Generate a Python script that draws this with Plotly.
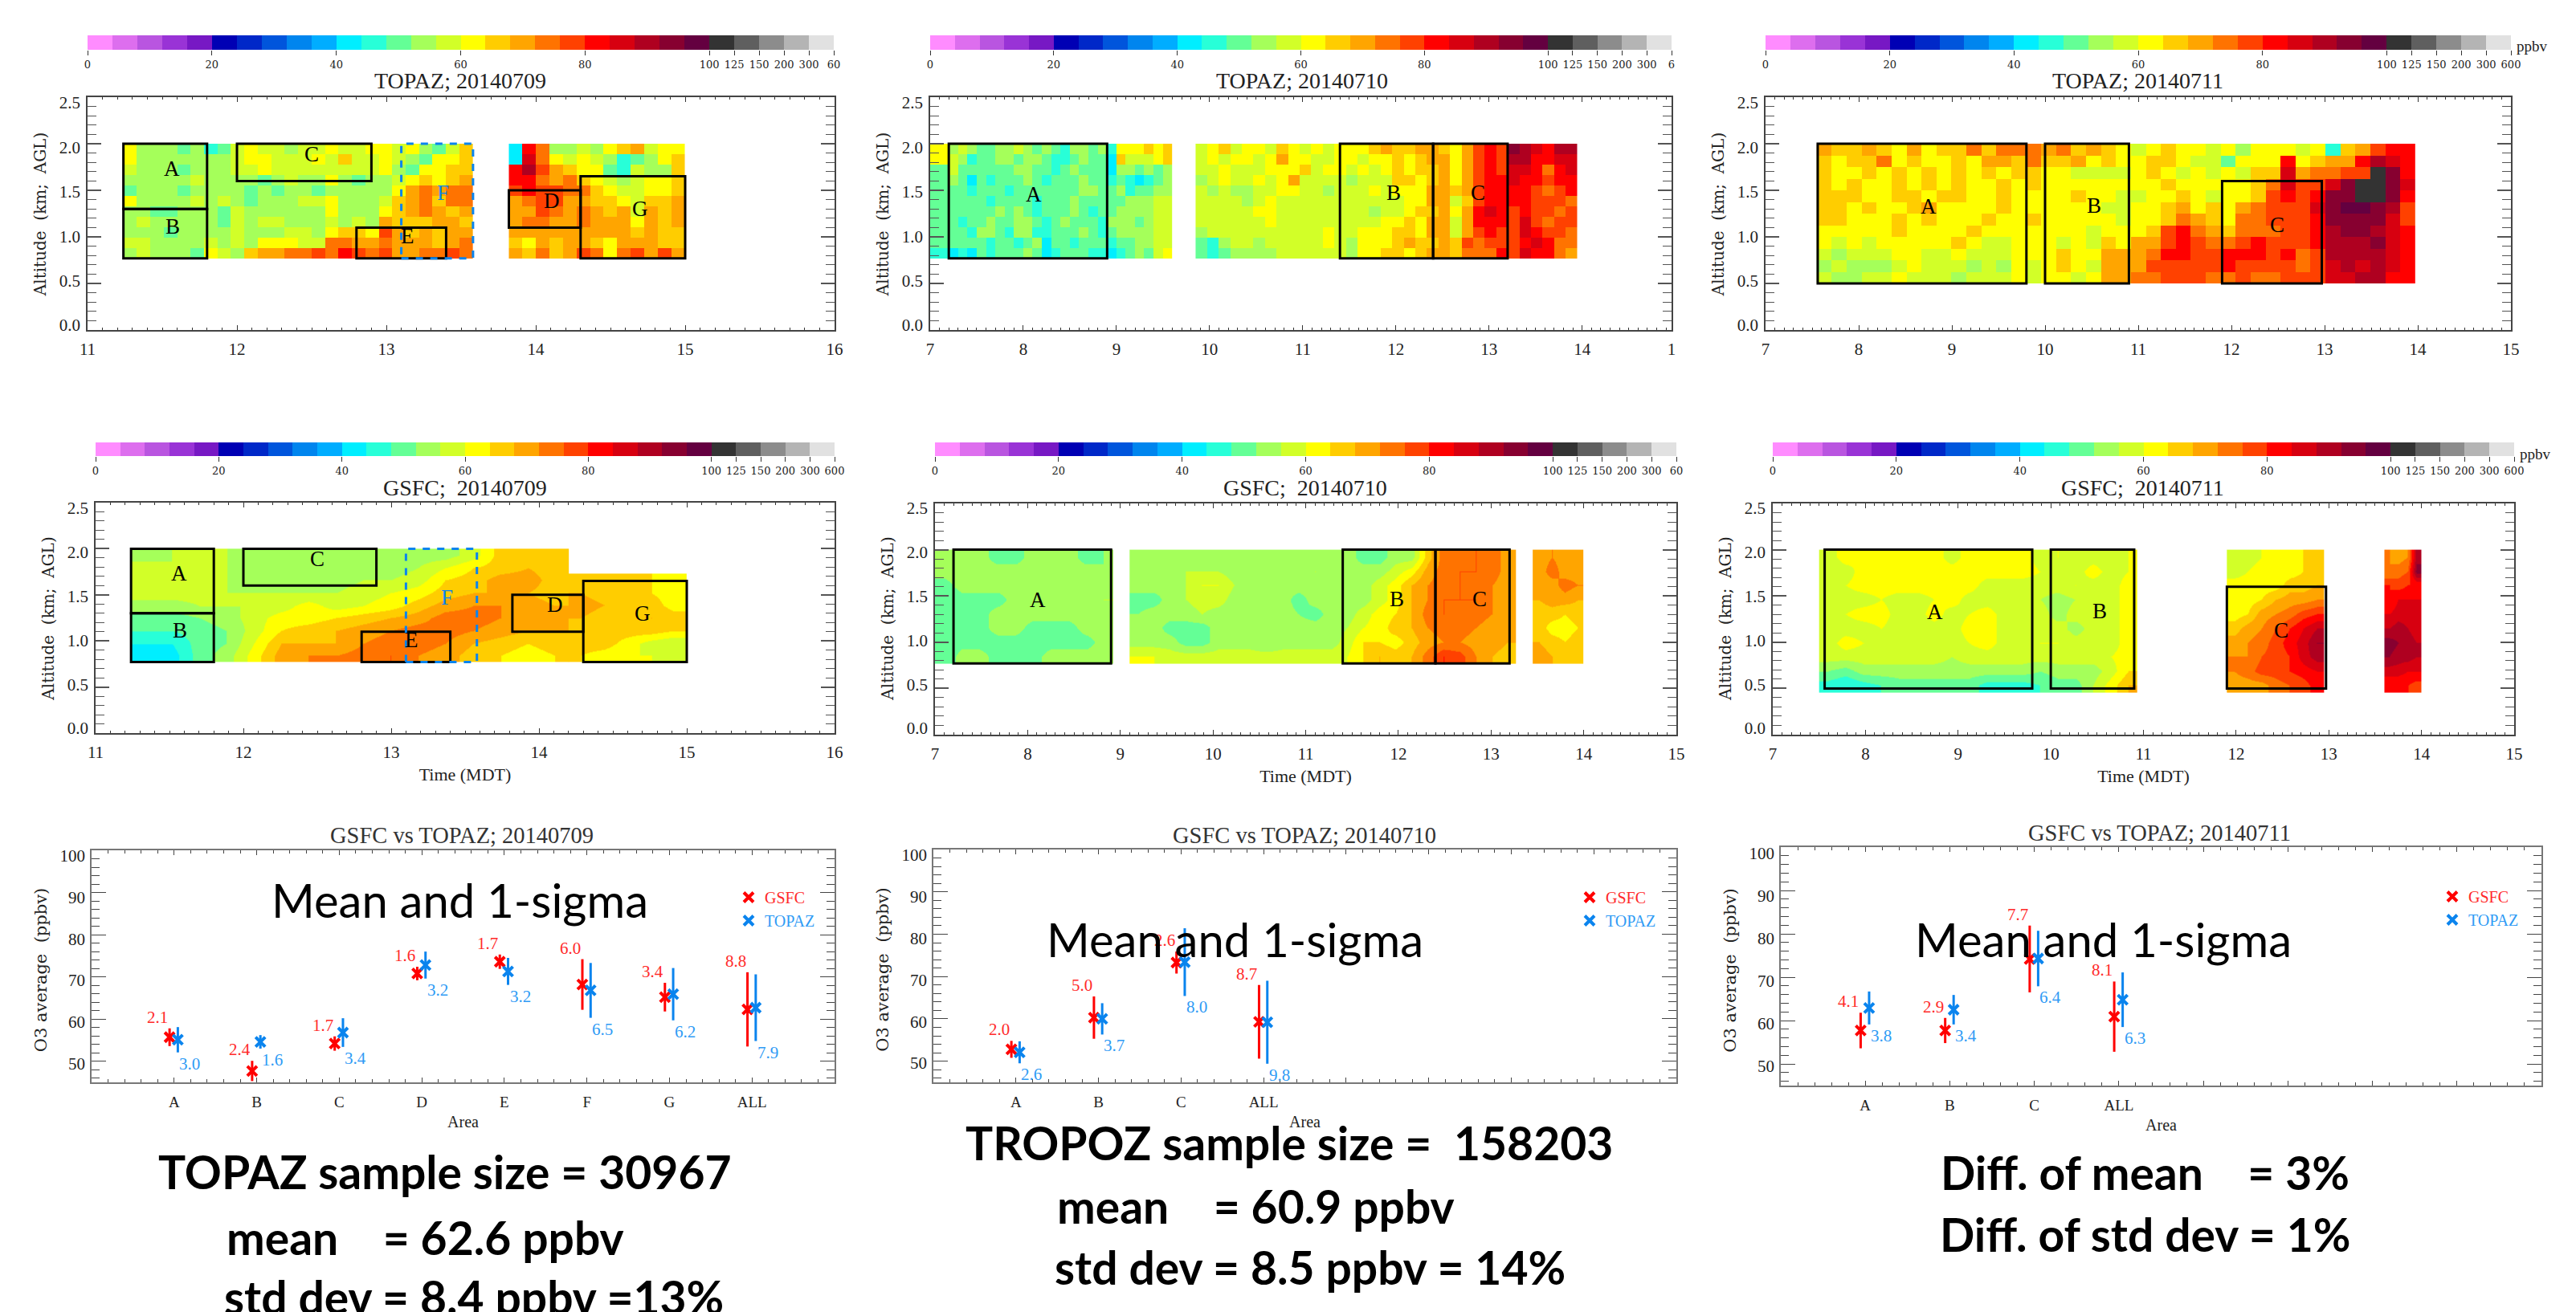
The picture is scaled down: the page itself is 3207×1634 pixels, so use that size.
import numpy as np
import plotly.graph_objects as go

W, H = 3207, 1634
SERIF = "Liberation Serif"
WIDE = "DejaVu Serif"
SANS = "Lato"

# ---------- colour table ----------
LEVELS = [0,4,8,12,16,20,24,28,32,36,40,44,48,52,56,60,64,68,72,76,80,84,88,92,96,100,125,150,200,300,600]
COLORS = ["#FF8CFF","#DD6EEE","#B955E0","#9933D6","#7718C4","#0000B4","#0028C8","#0055DC","#0085EE","#00ADFF",
          "#00EEFF","#28FFD8","#64FF96","#A5FF5A","#D2FF28","#FFFF00","#FFCD00","#FFA500","#FF7300","#FF4100",
          "#FF0000","#D70010","#AF0020","#870030","#640040","#333333","#5F5F5F","#8C8C8C","#B4B4B4","#E1E1E1"]
CB_TICKS = [0,5,10,15,20,25,26,27,28,29,30]
CB_TEXT = ["0","20","40","60","80","100","125","150","200","300","600"]

# ---------- TOPAZ 20140709 (ppbv), rows from 2.0 km down ----------
T09_A = [
[62,54,54,54,50,54,46,50,58,62,58,58,54,58,58,62,58,58,62,62,58,62,54,50,58,66],
[62,54,54,54,54,54,54,54,58,62,62,58,58,58,62,58,66,58,58,62,58,54,50,62,62,66],
[58,54,54,54,50,54,54,54,58,58,62,58,58,58,58,58,58,58,58,62,54,50,62,62,66,66],
[54,54,54,54,54,58,54,54,54,54,50,54,58,54,54,62,54,50,54,54,58,62,66,62,66,70],
[50,54,54,54,50,54,54,54,54,50,54,50,54,54,50,54,54,54,54,54,62,70,74,70,74,74],
[62,54,54,54,54,58,54,58,54,50,54,54,54,58,58,62,54,54,54,58,66,70,72,66,74,74],
[54,54,50,50,54,54,54,50,58,54,54,54,54,54,54,62,54,54,54,62,66,70,74,70,66,70],
[54,58,54,54,54,54,54,50,58,54,58,58,54,54,54,58,54,58,54,70,66,66,66,70,70,66],
[54,54,54,50,54,54,54,54,58,54,54,54,58,58,54,62,66,66,62,78,70,66,70,66,70,70],
[58,58,54,54,54,54,58,54,58,54,62,62,62,58,58,74,74,70,70,74,70,70,70,66,70,74],
[54,58,54,54,54,50,62,58,54,66,70,70,72,74,78,74,82,78,74,78,70,70,74,74,78,74]]
T09_B = [
[42,82,74,54,54,58,54,62,66,70,58,62,62],
[40,86,74,62,58,62,58,54,46,50,54,62,66],
[82,88,78,70,66,62,62,50,46,58,54,54,66],
[82,80,74,70,74,66,62,58,54,58,62,62,66],
[78,80,78,78,74,72,66,62,58,58,62,62,66],
[70,72,78,76,70,70,66,66,62,58,66,66,70],
[70,70,76,72,70,72,70,66,70,58,70,66,70],
[70,72,74,70,70,72,70,70,70,62,70,66,70],
[70,70,70,70,70,70,70,70,70,66,70,66,66],
[66,62,70,66,70,70,66,62,70,70,70,66,66],
[70,66,74,66,70,78,74,62,74,78,70,78,70]]

# ---------- TOPAZ 20140710 ----------
T10_S = [[62],[62],[50],[50],[50],[50],[50],[50],[50],[50],[46]]
T10_A = [
[54,58,54,50,50,54,54,58,54,50,54,50,46,54,54,50,54,46,62,62,62,66,62,66],
[58,54,46,50,50,54,54,50,54,54,50,46,46,50,54,50,50,42,66,58,58,58,62,66],
[58,50,50,50,50,50,50,54,54,50,50,46,50,54,50,50,50,42,54,54,50,54,50,54],
[54,50,42,50,46,50,50,50,54,50,46,50,50,50,54,50,50,46,50,46,42,46,50,54],
[50,50,46,50,50,50,46,50,50,50,50,50,50,50,54,54,50,50,54,46,50,50,54,54],
[50,50,50,50,46,50,50,50,50,46,50,50,50,54,50,50,50,50,50,54,54,54,58,58],
[50,50,50,50,50,54,50,54,50,46,50,50,50,54,50,46,50,50,54,54,54,54,58,58],
[50,46,50,50,54,50,50,54,54,50,46,50,54,50,50,50,46,54,54,54,50,54,58,58],
[50,50,46,54,54,50,46,54,54,46,46,50,50,50,54,50,46,50,54,54,54,54,58,58],
[50,50,50,50,46,50,50,46,50,54,42,50,50,46,50,50,50,46,50,50,54,54,58,58],
[42,46,42,50,46,50,50,50,54,50,40,46,50,50,50,46,46,40,46,50,54,50,58,62]]
T10_B = [
[58,62,66,58,62,62,58,66,62,58,62,58,62,62,62,66,70,66,66,70,70,66,62,70,78,82,78,94,90,86,82,88,90],
[58,62,58,62,62,58,62,70,62,62,58,58,62,62,58,62,62,66,62,66,70,70,62,70,78,82,78,88,88,82,80,84,86],
[58,58,62,58,58,58,62,62,62,66,58,62,62,58,62,58,62,66,62,66,66,70,62,70,78,80,78,86,84,82,74,82,84],
[54,58,62,58,58,62,58,62,70,58,58,58,58,54,58,58,58,66,66,62,66,70,62,70,78,82,82,84,82,80,78,80,82],
[58,54,58,54,54,58,58,62,62,58,58,54,58,58,58,62,58,62,62,62,70,70,66,70,76,82,80,80,80,78,74,78,80],
[58,58,58,58,54,58,62,58,58,58,58,58,58,58,58,58,58,58,62,62,70,70,58,66,78,82,82,80,80,78,76,78,74],
[58,58,58,58,58,62,62,58,58,58,58,58,58,58,58,54,58,58,62,66,66,70,62,70,82,86,82,78,82,76,78,74,78],
[58,58,58,58,58,58,62,58,58,58,58,58,58,58,58,58,62,62,66,62,70,70,58,70,82,82,80,78,84,78,74,78,76],
[54,58,58,58,58,58,58,58,58,58,58,62,58,58,62,62,62,66,66,62,70,70,58,70,78,82,78,78,84,80,76,78,74],
[50,46,54,58,58,54,58,58,58,58,58,62,58,54,62,62,62,66,70,66,66,70,66,78,74,78,76,76,80,84,80,74,72],
[50,44,50,54,54,54,54,58,58,58,58,58,58,54,62,62,66,66,62,66,70,70,66,74,72,74,80,78,84,80,82,74,68]]

# ---------- TOPAZ 20140711 ----------
T11_A = [
[70,66,66,70,66,62,70,62,66,66,74,66,74,72,74,70,74,66,70,66,62,58,62,66,62,62,58,62,54,62,62,62,58,62,46,66,70,78,82,82],
[66,62,66,66,74,62,66,62,62,66,62,70,70,66,74,66,66,70,62,66,62,62,66,66,62,58,58,50,62,62,62,82,62,66,70,70,82,90,86,82],
[66,62,62,66,62,66,62,66,62,66,62,66,62,66,66,62,62,58,58,58,58,62,66,62,58,62,58,62,58,66,66,86,70,74,74,78,78,110,94,82],
[66,62,66,62,62,66,62,66,62,66,62,62,66,62,66,62,62,62,62,62,62,62,62,66,62,62,62,62,62,66,74,86,78,78,86,92,110,110,94,86],
[66,66,66,62,62,66,66,62,66,66,62,62,66,62,62,62,62,66,62,62,58,58,62,62,66,62,58,62,62,66,78,82,78,82,94,94,110,110,92,82],
[66,66,62,66,62,62,66,70,62,62,62,62,66,62,62,62,62,62,62,58,58,62,62,66,70,62,66,62,70,74,78,76,78,86,94,96,96,94,90,78],
[66,66,62,62,62,66,62,66,62,62,62,66,62,62,66,62,62,62,62,62,58,62,62,66,74,70,66,62,74,72,78,78,78,82,92,94,94,92,86,78],
[62,62,62,62,62,66,62,62,62,62,66,62,62,62,62,62,62,62,58,62,62,62,66,78,82,74,70,66,72,72,74,76,78,80,90,92,92,90,84,82],
[62,58,62,58,62,62,62,62,62,66,62,58,58,62,62,62,58,62,58,66,62,70,70,78,82,78,74,74,78,80,78,76,76,82,88,90,90,92,86,82],
[58,54,58,58,58,62,62,58,58,62,58,58,58,62,62,62,66,62,62,70,70,70,74,82,82,78,78,80,82,80,78,80,74,78,88,90,88,90,84,80],
[54,58,54,54,54,58,62,58,58,58,54,58,54,62,58,62,66,62,58,70,70,70,78,78,78,76,78,80,78,76,78,76,74,78,86,88,86,88,84,80],
[58,54,54,58,58,62,58,58,58,54,58,58,58,62,58,62,62,58,62,70,70,74,74,78,78,78,74,74,76,74,74,76,78,78,84,86,88,88,82,80]]

# ---------- GSFC 20140709 ----------
G09_A = [
[54,56,56,56,54,54,54,54,54,54,54,54,58,66,66,66],
[58,56,56,56,54,54,54,54,54,54,56,60,64,66,68,66],
[58,58,58,56,54,54,54,54,56,56,58,64,66,70,70,66],
[58,58,58,56,56,56,56,56,58,60,62,66,68,68,68,66],
[54,54,56,56,56,58,62,58,60,62,66,70,72,72,70,68],
[50,50,52,54,58,62,62,64,66,68,70,74,74,72,70,68],
[48,48,50,52,58,64,66,68,70,72,74,74,72,70,68,68],
[44,44,50,52,60,68,68,68,72,74,74,72,68,66,64,66],
[42,42,50,54,62,70,72,72,74,76,72,70,66,64,62,64]]
G09_B = [
[64,64,64,64,62],[68,66,66,64,62],[70,68,66,66,62],[68,66,66,68,66],
[66,66,66,66,64],[66,66,62,58,56],[64,62,60,60,56]]

# ---------- GSFC 20140710 ----------
G10_A = [
[54,54,54,50,50,54,54,54,50,52],[54,54,54,54,54,54,54,54,54,52],
[50,54,54,54,54,54,54,54,54,54],[48,50,50,50,54,54,54,54,54,56],
[48,50,50,54,54,54,54,54,54,54],[48,50,50,54,54,50,50,50,54,54],
[48,50,50,50,50,50,50,50,50,54],[48,54,54,50,50,50,54,54,54,54]]
G10_B = [
[54,54,54,54,54,54,54,54,54,54,54,54,54,54,50,50,54,54,66,74,74,76,74,70],
[54,54,54,56,56,56,54,54,54,54,54,56,54,54,54,54,58,62,70,74,76,76,74,70],
[54,54,54,56,60,60,56,54,54,54,54,54,54,54,54,58,62,68,72,74,76,74,72,70],
[50,50,54,56,58,58,54,54,54,54,50,54,54,54,54,58,62,68,72,76,76,76,72,70],
[52,54,54,54,56,54,54,54,54,54,52,50,54,54,58,62,64,68,74,76,74,74,72,70],
[54,54,50,50,50,54,54,54,54,54,54,54,54,56,60,62,66,68,72,74,74,72,70,70],
[54,54,54,50,50,54,54,54,52,54,54,54,54,58,64,64,62,66,70,72,72,70,70,68],
[60,60,58,58,58,58,58,58,58,58,58,58,58,60,64,68,66,68,74,80,78,72,68,66]]
G10_C = [
[70,72,70,70],[70,74,70,70],[70,70,74,72],[68,70,70,68],
[66,66,64,66],[66,62,62,64],[68,66,64,66],[70,68,66,66]]

# ---------- GSFC 20140711 ----------
G11_A = [
[58,62,60,62,62,62,62,58,62,62,62,62,58,60,58,58,58,60],
[58,58,62,62,62,62,62,62,62,62,62,62,60,58,58,62,58,60],
[58,60,62,62,62,62,62,62,62,58,58,58,58,58,60,58,58,62],
[58,58,58,60,58,58,60,62,58,58,58,58,56,54,56,58,58,62],
[58,60,62,62,58,58,62,58,60,62,58,58,58,54,58,58,58,62],
[58,58,58,60,58,58,58,58,62,62,58,58,58,58,54,58,58,62],
[58,62,60,58,58,56,58,58,60,62,58,58,60,60,58,58,58,62],
[58,58,58,58,58,58,58,56,58,58,58,58,58,58,58,58,60,62],
[52,50,54,54,54,54,54,54,54,54,54,54,52,54,54,54,58,64],
[46,44,46,48,50,50,50,50,50,46,46,46,48,50,50,56,62,68]]
G11_B = [
[56,58,60,62,62,64,66],[58,60,62,60,62,64,66],[62,62,62,62,66,66,68],
[62,62,64,68,70,70,72],[62,64,70,72,74,78,80],[66,70,72,76,80,84,88],
[70,72,74,78,82,86,92],[72,72,76,78,80,86,90],[72,74,78,78,80,82,84],
[70,70,70,74,76,78,82]]
G11_C = [
[72,70,72,90],[72,74,76,94],[80,78,80,80],[80,84,84,84],[84,86,86,84],
[88,90,88,86],[94,92,90,88],[92,90,90,88],[86,86,84,84],[80,80,80,78]]

# ---------- mean and 1-sigma per area ----------
AREAS_09 = ["A","B","C","D","E","F","G","ALL"]
GSFC_MEAN_09 = [55.7,47.7,54.2,70.8,73.6,68.2,65.2,62.3]
GSFC_STD_09 = [2.1,2.4,1.7,1.6,1.7,6.0,3.4,8.8]
TOPAZ_MEAN_09 = [55.1,54.6,56.8,72.8,71.3,66.8,65.9,62.7]
TOPAZ_STD_09 = [3.0,1.6,3.4,3.2,3.2,6.5,6.2,7.9]

AREAS_10 = ["A","B","C","ALL"]
GSFC_MEAN_10 = [52.8,60.3,73.3,59.3]
GSFC_STD_10 = [2.0,5.0,2.6,8.7]
TOPAZ_MEAN_10 = [52.1,60.0,73.4,59.2]
TOPAZ_STD_10 = [2.6,3.7,8.0,9.8]

AREAS_11 = ["A","B","C","ALL"]
GSFC_MEAN_11 = [57.7,57.7,74.2,60.9]
GSFC_STD_11 = [4.1,2.9,7.7,8.1]
TOPAZ_MEAN_11 = [62.9,62.5,74.3,64.8]
TOPAZ_STD_11 = [3.8,3.4,6.4,6.3]

# ---------- helpers ----------
CS = []
for i, c in enumerate(COLORS):
    CS += [[i/30, c], [(i+1)/30, c]]

fig = go.Figure()
layout = dict(width=W, height=H, autosize=False, margin=dict(l=0,r=0,t=0,b=0,autoexpand=False),
              paper_bgcolor="white", plot_bgcolor="rgba(0,0,0,0)", showlegend=True)
annos, shapes = [], []
counter = [0]

def fx(v): return v / W
def fy(v): return 1 - v / H

def new_axes():
    counter[0] += 1
    n = counter[0]
    return n, ("" if n == 1 else str(n))

def text(x, y, s, size, family=SERIF, color="#222", xanchor="center", yanchor="middle", bold=False):
    annos.append(dict(x=fx(x), y=fy(y), xref="paper", yref="paper", text=f"<b>{s}</b>" if bold else s,
                      showarrow=False, xanchor=xanchor, yanchor=yanchor,
                      font=dict(size=size, family=family, color=color)))

def colorbar(x0, x1, y0, y1, end_label):
    n, s = new_axes()
    labels = CB_TEXT[:-1] + [end_label]
    fig.add_trace(go.Heatmap(x=np.arange(30)+0.5, y=[0], z=[list(np.arange(30)+0.5)], zmin=0, zmax=30,
                             colorscale=CS, showscale=False, hoverinfo="skip", xaxis="x"+s, yaxis="y"+s))
    layout["xaxis"+s] = dict(domain=[fx(x0), fx(x1)], range=[0,30], anchor="y"+s, tickmode="array",
                             tickvals=CB_TICKS, ticktext=labels, ticks="outside", ticklen=6, tickwidth=1,
                             tickcolor="#333", showgrid=False, zeroline=False, showline=False, automargin=False,
                             ticklabelstandoff=0, tickangle=0,
                             tickfont=dict(family=WIDE, size=13, color="#222"))
    layout["yaxis"+s] = dict(domain=[fy(y1), fy(y0)], visible=False, anchor="x"+s, range=[-0.5,0.5], automargin=False)

def heat_panel(box, cb, xrange, xticks, xticktext, lab_y, blocks, smooth, rects, labels, time_title, end_label, title, title_x, title_y):
    colorbar(cb[0], cb[1], cb[2], cb[3], end_label)
    n, s = new_axes()
    for rows, xs, xe, ys, ye in blocks:
        arr = np.array(rows, dtype=float)[::-1]
        nr, nc = arr.shape
        dx, dy = (xe-xs)/nc, (ye-ys)/nr
        fig.add_trace(go.Heatmap(x=xs+(np.arange(nc)+0.5)*dx, y=ys+(np.arange(nr)+0.5)*dy,
                                 z=np.interp(arr, LEVELS, np.arange(31)).tolist(), zmin=0, zmax=30,
                                 colorscale=CS, showscale=False, hoverinfo="skip",
                                 zsmooth="best" if smooth else False, xaxis="x"+s, yaxis="y"+s))
    xax = dict(domain=[fx(box[0]), fx(box[1])], range=xrange, anchor="y"+s, tickmode="array", automargin=False,
               tickvals=xticks, ticktext=xticktext, ticks="inside", ticklen=6, tickwidth=1, tickcolor="#333",
               minor=dict(tickmode="linear", tick0=0, dtick=0.1, ticks="inside", ticklen=3, tickcolor="#333", tickwidth=1),
               mirror="ticks", showline=True, linecolor="#444", linewidth=2, showgrid=False, zeroline=False,
               ticklabelstandoff=4, tickfont=dict(family=SERIF, size=21, color="#222"))
    if time_title:
        xax["title"] = dict(text="Time (MDT)", font=dict(family=SERIF, size=22, color="#222"), standoff=8)
    layout["xaxis"+s] = xax
    layout["yaxis"+s] = dict(domain=[fy(box[3]), fy(box[2])], range=[0,2.5], anchor="x"+s, automargin=False,
                             tickmode="array", tickvals=[0,0.5,1,1.5,2,2.5], ticks="inside", ticklen=17, tickwidth=2,
                             tickcolor="#555", showticklabels=False,
                             minor=dict(tickmode="linear", tick0=0, dtick=0.1, ticks="inside", ticklen=11, tickcolor="#555", tickwidth=1),
                             mirror="ticks", showline=True, linecolor="#444", linewidth=2, showgrid=False, zeroline=False)
    # offset label axis: the tick numbers sit slightly inside the axis ends
    n2, s2 = new_axes()
    layout["yaxis"+s2] = dict(domain=[fy(lab_y[1]), fy(lab_y[0])], range=[0,2.5], anchor="x"+s, automargin=False,
                              tickmode="array", tickvals=[0,0.5,1,1.5,2,2.5],
                              ticktext=["0.0","0.5","1.0","1.5","2.0","2.5"], ticks="", showline=False,
                              showgrid=False, zeroline=False, ticklabelstandoff=8,
                              tickfont=dict(family=SERIF, size=21, color="#222"),
                              title=dict(text="Altitude  (km;  AGL)", standoff=10,
                                         font=dict(family=WIDE, size=20, color="#222")))
    fig.add_trace(go.Scatter(x=[], y=[], xaxis="x"+s, yaxis="y"+s2, showlegend=False, hoverinfo="skip"))
    for r in rects:
        shapes.append(dict(type="rect", xref="x"+s, yref="y"+s, x0=r[0], x1=r[1], y0=r[2], y1=r[3],
                           line=dict(color=r[4] if len(r) > 4 else "black", width=3,
                                     dash=r[5] if len(r) > 5 else "solid")))
    for lx, ly, t, col in labels:
        annos.append(dict(x=lx, y=ly, xref="x"+s, yref="y"+s, text=t, showarrow=False,
                          font=dict(family=SERIF, size=27, color=col)))
    text(title_x, title_y, title, 28)

def stat_panel(box, lab_y, areas, gm, gs, tm, ts, legend_id, legend_xy, title, title_x, title_y, area_std):
    n, s = new_axes()
    pos = np.arange(1, len(areas)+1)
    for name, mean, std, col, off, lab_col, right in [
        ("GSFC", gm, gs, "#FF0000", -0.055, "#FF2A2A", True),
        ("TOPAZ", tm, ts, "#0A84EE", 0.045, "#2F9BF5", False)]:
        px = pos + off
        fig.add_trace(go.Scatter(x=px, y=mean, mode="markers", xaxis="x"+s, yaxis="y"+s,
                                 name=f'<span style="color:{lab_col}">{name}</span>', legend=legend_id,
                                 marker=dict(symbol="x-thin", size=12, line=dict(width=4, color=col), color=col),
                                 error_y=dict(type="data", array=std, width=0, thickness=3, color=col),
                                 hoverinfo="skip"))
        for x_, m_, e_ in zip(px, mean, std):
            annos.append(dict(x=x_, y=m_+e_ if right else m_-e_, xref="x"+s, yref="y"+s, text=f"{e_:.1f}",
                              showarrow=False, xanchor="right" if right else "left",
                              yanchor="bottom" if right else "top",
                              font=dict(family=SERIF, size=21, color=lab_col)))
    layout[legend_id] = dict(x=fx(legend_xy[0]), y=fy(legend_xy[1]), xanchor="left", yanchor="top",
                             bgcolor="rgba(0,0,0,0)", font=dict(family=SERIF, size=20), itemwidth=30,
                             tracegroupgap=0)
    layout["xaxis"+s] = dict(domain=[fx(box[0]), fx(box[1])], range=[0,9], anchor="y"+s, tickmode="array", automargin=False,
                             tickvals=list(range(10)), ticktext=[""]+areas+[""]*(9-len(areas)),
                             ticks="inside", ticklen=6, tickwidth=1, tickcolor="#444",
                             minor=dict(tickmode="linear", tick0=0, dtick=0.2, ticks="inside", ticklen=4, tickcolor="#444", tickwidth=1),
                             mirror="ticks", showline=True, linecolor="#777", linewidth=2, showgrid=False, zeroline=False,
                             ticklabelstandoff=6, tickfont=dict(family=SERIF, size=19, color="#222"),
                             title=dict(text="Area", standoff=area_std, font=dict(family=SERIF, size=20, color="#222")))
    layout["yaxis"+s] = dict(domain=[fy(box[3]), fy(box[2])], range=[45,100], anchor="x"+s, tickmode="array", automargin=False,
                             tickvals=[50,60,70,80,90,100], ticks="inside", ticklen=18, tickwidth=1, tickcolor="#444",
                             showticklabels=False,
                             minor=dict(tickmode="linear", tick0=0, dtick=2, ticks="inside", ticklen=10, tickcolor="#444", tickwidth=1),
                             mirror="ticks", showline=True, linecolor="#777", linewidth=2, showgrid=False, zeroline=False)
    n2, s2 = new_axes()
    layout["yaxis"+s2] = dict(domain=[fy(lab_y[1]), fy(lab_y[0])], range=[45,100], anchor="x"+s, tickmode="array", automargin=False,
                              tickvals=[50,60,70,80,90,100], ticks="", showline=False, showgrid=False, zeroline=False,
                              ticklabelstandoff=7, tickfont=dict(family=SERIF, size=21, color="#222"),
                              title=dict(text="O3 average  (ppbv)", standoff=10, font=dict(family=WIDE, size=21, color="#222")))
    fig.add_trace(go.Scatter(x=[], y=[], xaxis="x"+s, yaxis="y"+s2, showlegend=False, hoverinfo="skip"))
    text(title_x, title_y, title, 28.5, color="#333")

BLUE = "#0A84EE"
HOURS_A = list(range(11, 17))
HOURS_B = list(range(7, 16))
RECTS_09 = [(11.24,11.8,1.3,2.0),(11.24,11.8,0.77,1.3),(12,12.9,1.6,2.0),(13.82,14.3,1.1,1.5),
            (12.8,13.4,0.77,1.1),(14.3,15,0.77,1.65),(13.1,13.58,0.77,2.0,BLUE,"dash")]
LABELS_09 = [(11.565,1.73,"A","black"),(11.57,1.115,"B","black"),(12.5,1.89,"C","black"),(14.11,1.39,"D","black"),
             (13.14,1.01,"E","black"),(13.38,1.47,"F",BLUE),(14.7,1.30,"G","black")]
RECTS_10 = [(7.2,8.9,0.77,2.0),(11.4,12.4,0.77,2.0),(12.4,13.2,0.77,2.0)]
LABELS_10 = [(8.11,1.46,"A","black"),(11.98,1.47,"B","black"),(12.88,1.47,"C","black")]
RECTS_11 = [(7.56,9.8,0.5,2.0),(10,10.9,0.5,2.0),(11.9,12.97,0.5,1.6)]
LABELS_11 = [(8.75,1.33,"A","black"),(10.53,1.335,"B","black"),(12.49,1.13,"C","black")]

# row 1
heat_panel((109,1039,121,411),(109,1038,44,62),[11,16],HOURS_A,[str(h) for h in HOURS_A],(128,405),
           [(T09_A,11.24,13.58,0.77,2.0),(T09_B,13.82,15.0,0.77,2.0)],False,RECTS_09,LABELS_09,False,"60",
           "TOPAZ; 20140709",573,101)
heat_panel((1158,2081,121,411),(1158,2081,44,62),[7,14.96],list(range(7,15))+[14.96],[str(h) for h in range(7,15)]+["1"],(128,405),
           [(T10_S,7.0,7.1,0.77,2.0),(T10_A,7.2,9.6,0.77,2.0),(T10_B,9.85,13.95,0.77,2.0)],False,RECTS_10,LABELS_10,False,"6",
           "TOPAZ; 20140710",1621,101)
heat_panel((2198,3126,121,411),(2198,3126,44,62),[7,15],HOURS_B,[str(h) for h in HOURS_B],(128,405),
           [(T11_A,7.55,13.97,0.5,2.0)],False,RECTS_11,LABELS_11,False,"600",
           "TOPAZ; 20140711",2661,101)
# row 2
heat_panel((119,1039,626,913),(119,1039,551,568),[11,16],HOURS_A,[str(h) for h in HOURS_A],(633,907),
           [(G09_A,11.24,14.2,0.77,2.0),(G09_B,14.2,15.0,0.77,1.73)],True,RECTS_09,LABELS_09,True,"600",
           "GSFC;  20140709",579,607)
heat_panel((1164,2087,627,915),(1164,2087,551,568),[7,15],HOURS_B,[str(h) for h in HOURS_B],(633,907),
           [(G10_A,7.0,8.92,0.77,2.0),(G10_B,9.1,13.27,0.77,2.0),(G10_C,13.45,14.0,0.77,2.0)],True,RECTS_10,LABELS_10,True,"60",
           "GSFC;  20140710",1625,607)
heat_panel((2207,3130,627,915),(2207,3130,551,568),[7,15],HOURS_B,[str(h) for h in HOURS_B],(633,907),
           [(G11_A,7.5,10.93,0.456,2.0),(G11_B,11.9,12.95,0.456,2.0),(G11_C,13.6,14.0,0.456,2.0)],True,RECTS_11,LABELS_11,True,"600",
           "GSFC;  20140711",2667,607)
text(3131, 58, "ppbv", 19, xanchor="left")
text(3135, 565, "ppbv", 19, xanchor="left")

# row 3
stat_panel((114,1039,1059,1348),(1066,1350),AREAS_09,GSFC_MEAN_09,GSFC_STD_09,TOPAZ_MEAN_09,TOPAZ_STD_09,
           "legend",(912,1098),"GSFC vs TOPAZ; 20140709",575,1040,8)
stat_panel((1162,2087,1058,1348),(1065,1350),AREAS_10,GSFC_MEAN_10,GSFC_STD_10,TOPAZ_MEAN_10,TOPAZ_STD_10,
           "legend2",(1959,1098),"GSFC vs TOPAZ; 20140710",1624,1040,8)
stat_panel((2217,3164,1055,1352),(1063,1354),AREAS_11,GSFC_MEAN_11,GSFC_STD_11,TOPAZ_MEAN_11,TOPAZ_STD_11,
           "legend3",(3033,1097),"GSFC vs TOPAZ; 20140711",2688,1037,8)

# overlaid slide text
text(572, 1120, "Mean and 1-sigma", 58, family=SANS, color="black")
text(1537, 1169, "Mean and 1-sigma", 58, family=SANS, color="black")
text(2618, 1169, "Mean and 1-sigma", 58, family=SANS, color="black")
N = "\u00a0"
for x_, y_, s_ in [(554,1459,"TOPAZ sample size = 30967"),(529,1541,f"mean{N*4}= 62.6 ppbv"),(590,1615,"std dev = 8.4 ppbv =13%"),
                   (1605,1423,f"TROPOZ sample size ={N*2}158203"),(1563,1502,f"mean{N*4}= 60.9 ppbv"),(1631,1578,"std dev = 8.5 ppbv = 14%"),
                   (2670,1460,f"Diff. of mean{N*4}= 3%"),(2670,1537,"Diff. of std dev = 1%")]:
    text(x_, y_, s_, 57, family=SANS, color="black", bold=True)

layout["annotations"] = annos
layout["shapes"] = shapes
fig.update_layout(**layout)
fig.write_html("out.html", config={"displayModeBar": False},
               post_script="document.body.style.margin='0';document.documentElement.style.overflow='hidden';")
